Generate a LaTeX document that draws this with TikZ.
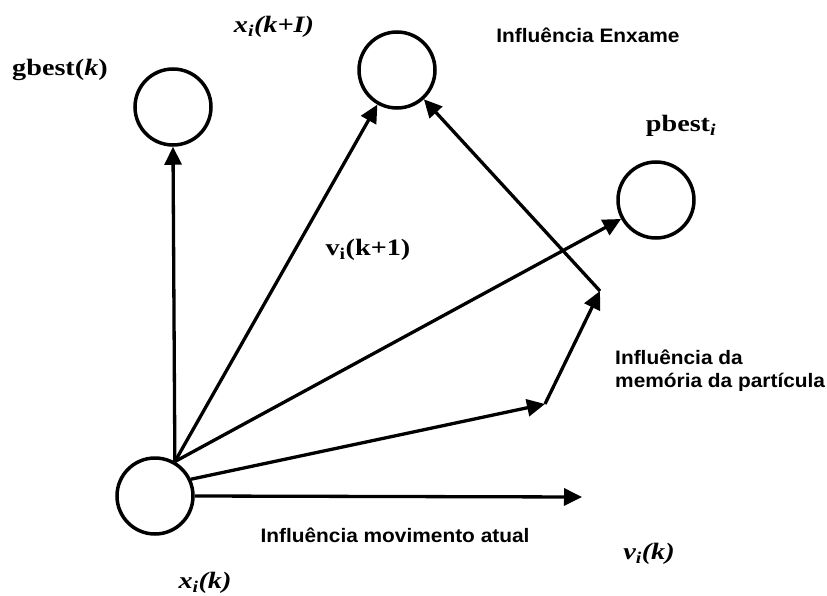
\documentclass[tikz,border=0pt]{standalone}
\usepackage{fontspec}
\usetikzlibrary{arrows.meta}
\newfontfamily\lblserif[FakeStretch=1.2]{Liberation Serif}
\newfontfamily\lblsans[FakeStretch=1.07]{Liberation Sans}
\tikzset{
  particle/.style={circle, draw, line width=3.5pt, minimum size=76pt, inner sep=0pt},
  vec/.style={line width=3.3pt, -{Triangle[length=18pt,width=17pt]}},
  serlbl/.style={font=\lblserif\fontsize{23.5}{26}\selectfont\bfseries, inner sep=0pt},
  sanslbl/.style={font=\lblsans\fontsize{19.5}{23}\selectfont\bfseries, inner sep=0pt, align=left}
}
\begin{document}
\begin{tikzpicture}[x=1pt,y=-1pt]
\useasboundingbox (0,0) rectangle (827,596);
% particles
\node[particle] (xk)  at (155,496) {};
\node[particle] (gb)  at (173,107) {};
\node[particle] (xk1) at (397,70) {};
\node[particle] (pb)  at (656,200) {};
% helper coordinates
\coordinate (m1) at (545,404);
\coordinate (m2) at (600,291);
\coordinate (vend) at (582,497);
% connectors
\draw[vec] (xk.60) -- (gb.south);
\draw[vec] (xk.60) -- (xk1);
\draw[vec] (xk.60) -- (pb);
\draw[vec] (xk.25) -- (m1);
\draw[vec] (m1) -- (m2);
\draw[vec] (m2) -- (xk1);
\draw[vec] (xk.east) -- (vend);
% labels
\node[serlbl] (lgb)  at (60,70) {gbest(\textit{k})};
\node[serlbl] (lxk1) at (274,27) {\textit{x\textsubscript{i}(k+I)}};
\node[serlbl] (lpb)  at (681,126) {pbest\textsubscript{\textit{i}}};
\node[serlbl] (lv1)  at (368,250) {v\textsubscript{i}(k+1)};
\node[serlbl] (lvk)  at (649,554) {\textit{v\textsubscript{i}(k)}};
\node[serlbl] (lxk)  at (205,583) {\textit{x\textsubscript{i}(k)}};
\node[sanslbl] (ienx) at (588,35) {Influência Enxame};
\node[sanslbl, anchor=west] (imem) at (615,371) {Influência da\\memória da partícula};
\node[sanslbl] (imov) at (395,535) {Influência movimento atual};
\end{tikzpicture}
\end{document}
